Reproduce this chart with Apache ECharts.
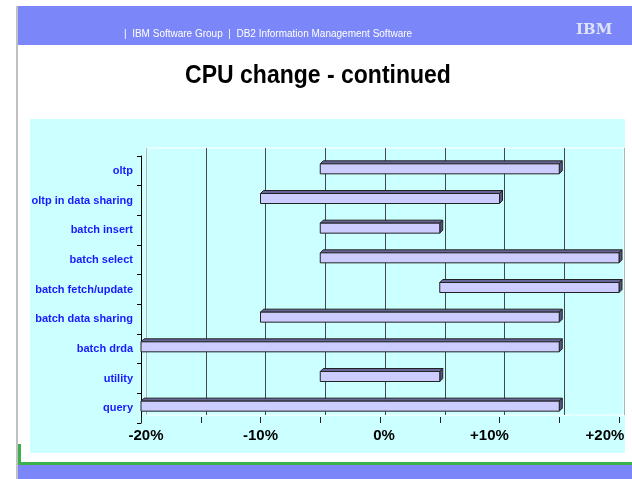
<!DOCTYPE html>
<html>
<head>
<meta charset="utf-8">
<script src="https://cdn.jsdelivr.net/npm/echarts@6/dist/echarts.min.js"></script>
<style>
  html, body { margin: 0; padding: 0; background: #fff; }
  #chart { width: 632px; height: 479px; }
</style>
</head>
<body>
<div id="chart"></div>
<script>
// CPU change per workload: each bar runs from changeFrom to changeTo (%)
const categories = ['oltp', 'oltp in data sharing', 'batch insert', 'batch select',
  'batch fetch/update', 'batch data sharing', 'batch drda', 'utility', 'query']
const changeFrom = [-5, -10, -5, -5, 5, -10, -20, -5, -20]
const changeTo = [15, 10, 5, 20, 20, 15, 15, 5, 15]
const tickLabels = ['-20%', '-10%', '0%', '+10%', '+20%']

const barData = categories.map((c, i) => [i, changeFrom[i], changeTo[i]])

const chart = echarts.init(document.getElementById('chart'))

// wall lines: light at the ends, dark inside
const wallColors = ['#a8b8b8', '#404848', '#404848', '#404848', '#404848', '#404848', '#404848', '#404848', '#a8b8b8']
// the 3D floor skews the tick labels a little
const labelStyle = ['a', 'b', 'c', 'd', 'e']

const renderBar = (params, api) => {
  const idx = api.value(0)
  const a = api.coord([api.value(1), idx])
  const b = api.coord([api.value(2), idx])
  const h = 10
  const d = 3
  const y = a[1] - 7
  const x0 = a[0]
  const x1 = b[0]
  return {
    type: 'group',
    children: [
      {
        type: 'polygon',
        shape: { points: [[x0, y], [x0 + d, y - d], [x1 + d, y - d], [x1, y]] },
        style: { fill: '#666699', stroke: '#222', lineWidth: 1 }
      },
      {
        type: 'polygon',
        shape: { points: [[x1, y], [x1 + d, y - d], [x1 + d, y - d + h], [x1, y + h]] },
        style: { fill: '#55557f', stroke: '#222', lineWidth: 1 }
      },
      {
        type: 'rect',
        shape: { x: x0, y: y, width: x1 - x0, height: h },
        style: { fill: '#ccccff', stroke: '#222', lineWidth: 1 }
      }
    ]
  }
}

const tickFont = { fontFamily: 'Liberation Sans', fontWeight: 'bold', fontSize: 15, color: '#000' }

chart.setOption({
  backgroundColor: '#ffffff',
  animation: false,
  graphic: [
    { type: 'rect', z: -20, shape: { x: 18, y: 6, width: 614, height: 39 }, style: { fill: '#7b87f9' } },
    { type: 'rect', z: -20, shape: { x: 16, y: 6, width: 2, height: 473 }, style: { fill: '#c0c0c0' } },
    { type: 'rect', z: -20, shape: { x: 30, y: 119, width: 595, height: 334 }, style: { fill: '#ccffff' } },
    { type: 'rect', z: -20, shape: { x: 18, y: 444, width: 3, height: 21 }, style: { fill: '#3cb04a' } },
    { type: 'rect', z: -20, shape: { x: 18, y: 462, width: 614, height: 3 }, style: { fill: '#3cb04a' } },
    { type: 'rect', z: -20, shape: { x: 18, y: 465, width: 614, height: 14 }, style: { fill: '#7b87f9' } },
    {
      type: 'text', z: 5, x: 124, y: 29,
      style: { text: '|  IBM Software Group  |  DB2 Information Management Software', fill: '#ffffff', font: '10px Liberation Sans' }
    },
    {
      type: 'text', z: 5, x: 576, y: 23,
      style: { text: 'IBM', fill: '#dde2f6', font: 'bold 15px DejaVu Serif' }
    },
    {
      type: 'text', z: 5, x: 318, y: 76, scaleX: 0.92,
      style: {
        text: 'CPU change - continued', fill: '#000', font: 'bold 25px Liberation Sans',
        textAlign: 'center', textVerticalAlign: 'middle'
      }
    }
  ],
  grid: [
    {
      left: 146, top: 148, width: 478, height: 267, outerBoundsMode: 'none',
      show: true, backgroundColor: '#ccffff', borderColor: '#ffffff', borderWidth: 1
    },
    { left: 141, top: 156, width: 478, height: 267, outerBoundsMode: 'none' }
  ],
  xAxis: [
    {
      gridIndex: 0, type: 'value', min: -20, max: 20, interval: 5,
      axisLine: { show: false }, axisTick: { show: false }, axisLabel: { show: false },
      splitLine: { show: true, lineStyle: { color: wallColors, width: 1 } }
    },
    {
      gridIndex: 1, type: 'value', min: -20, max: 20, interval: 5,
      axisLine: { show: false },
      axisTick: { show: true, inside: true, length: 6, lineStyle: { color: '#222' } },
      splitLine: { show: false },
      axisLabel: {
        margin: 5,
        ...tickFont,
        formatter: (v) => {
          if (v % 10 !== 0) return ''
          const k = (v + 20) / 10
          return '{' + labelStyle[k] + '|' + tickLabels[k] + '}'
        },
        rich: {
          a: { ...tickFont, padding: [0, 0, 0, 10] },
          b: { ...tickFont },
          c: { ...tickFont, padding: [0, 0, 0, 8] },
          d: { ...tickFont, padding: [0, 20, 0, 0] },
          e: { ...tickFont, padding: [0, 28, 0, 0] }
        }
      }
    }
  ],
  yAxis: [
    { gridIndex: 0, type: 'category', data: categories, inverse: true, show: false },
    {
      gridIndex: 1, type: 'category', data: categories, inverse: true,
      axisLine: { show: true, onZero: false, lineStyle: { color: '#000', width: 1 } },
      axisTick: { show: true, length: 4, lineStyle: { color: '#000' } },
      axisLabel: { margin: 8, fontFamily: 'Liberation Sans', fontWeight: 'bold', fontSize: 11, color: '#1a1aff' }
    }
  ],
  series: [
    {
      type: 'custom',
      xAxisIndex: 1,
      yAxisIndex: 1,
      renderItem: renderBar,
      encode: { x: [1, 2], y: 0 },
      data: barData
    }
  ]
})
</script>
</body>
</html>
